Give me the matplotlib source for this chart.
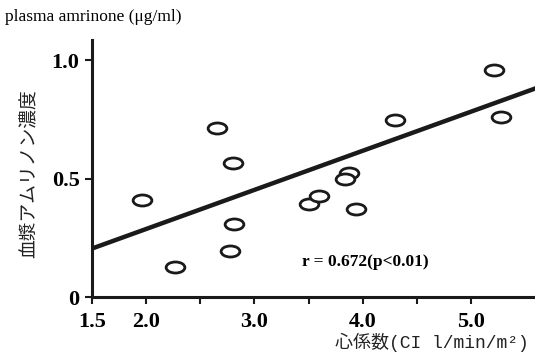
import matplotlib
matplotlib.use("Agg")
import matplotlib.pyplot as plt
from matplotlib.path import Path
from matplotlib.transforms import Affine2D

# cardiac index (x) vs plasma amrinone (y)
ci = [1.96, 2.27, 2.65, 2.80, 2.81, 2.77, 3.50, 3.60, 3.87, 3.84, 3.94, 4.30, 5.21, 5.28]
amrinone = [0.41, 0.125, 0.714, 0.564, 0.307, 0.193, 0.395, 0.427, 0.524, 0.497, 0.373, 0.747, 0.958, 0.761]

# regression line ends
fit_x = [1.5, 5.6]
fit_y = [0.205, 0.882]

xticks = [1.5, 2.0, 2.5, 3.0, 3.5, 4.0, 4.5, 5.0]
xticklabels = ["1.5", "2.0", "", "3.0", "", "4.0", "", "5.0"]
yticks = [0, 0.5, 1.0]
yticklabels = ["0", "0.5", "1.0"]

serif = "Liberation Serif"
jp = ["Noto Sans CJK JP", "DejaVu Sans"]
jp_mono = ["Liberation Mono", "Noto Sans CJK JP"]

fig = plt.figure(figsize=(5.35, 3.61), dpi=100)
ax = fig.add_axes([0.172, 0.177, 0.828, 0.712])

oval = Path.unit_circle().transformed(Affine2D().scale(1.7, 1.0))
ax.plot(fit_x, fit_y, color="#1a1a1a", lw=3.2, solid_capstyle="butt", zorder=2)
ax.plot(ci, amrinone, ls="none", marker=oval, ms=13.5, mfc="white",
        mec="#1a1a1a", mew=2.0, zorder=3)

ax.set_xlim(1.5, 5.59)
ax.set_ylim(0, 1.085)
ax.set_xticks(xticks)
ax.set_xticklabels(xticklabels, fontfamily=serif, fontweight="bold", fontsize=16)
ax.set_yticks(yticks)
ax.set_yticklabels(yticklabels, fontfamily=serif, fontweight="bold", fontsize=16)
ax.tick_params(width=1.5, length=5, color="#1a1a1a")
ax.tick_params(axis="x", pad=6)
ax.tick_params(axis="y", pad=4)

for s in ["top", "right"]:
    ax.spines[s].set_visible(False)
for s in ["left", "bottom"]:
    ax.spines[s].set_linewidth(2.2)
    ax.spines[s].set_color("#1a1a1a")

fig.text(0.009, 0.942, "plasma amrinone (μg/ml)", fontfamily=serif, fontsize=12.5,
         va="baseline")

fig.text(0.055, 0.52, "血漿アムリノン濃度", family=jp, fontsize=13.5,
         rotation=90, ha="center", va="center", color="#222222")
fig.text(0.988, 0.035, "心係数(CI l/min/m²)", family=jp_mono, fontsize=13,
         ha="right", va="baseline", color="#222222")

ax.text(3.44, 0.148, "r = 0.672(p<0.01)", fontfamily=serif, fontweight="bold",
        fontsize=12.5, va="center")

fig.savefig("out.png", dpi=100)
